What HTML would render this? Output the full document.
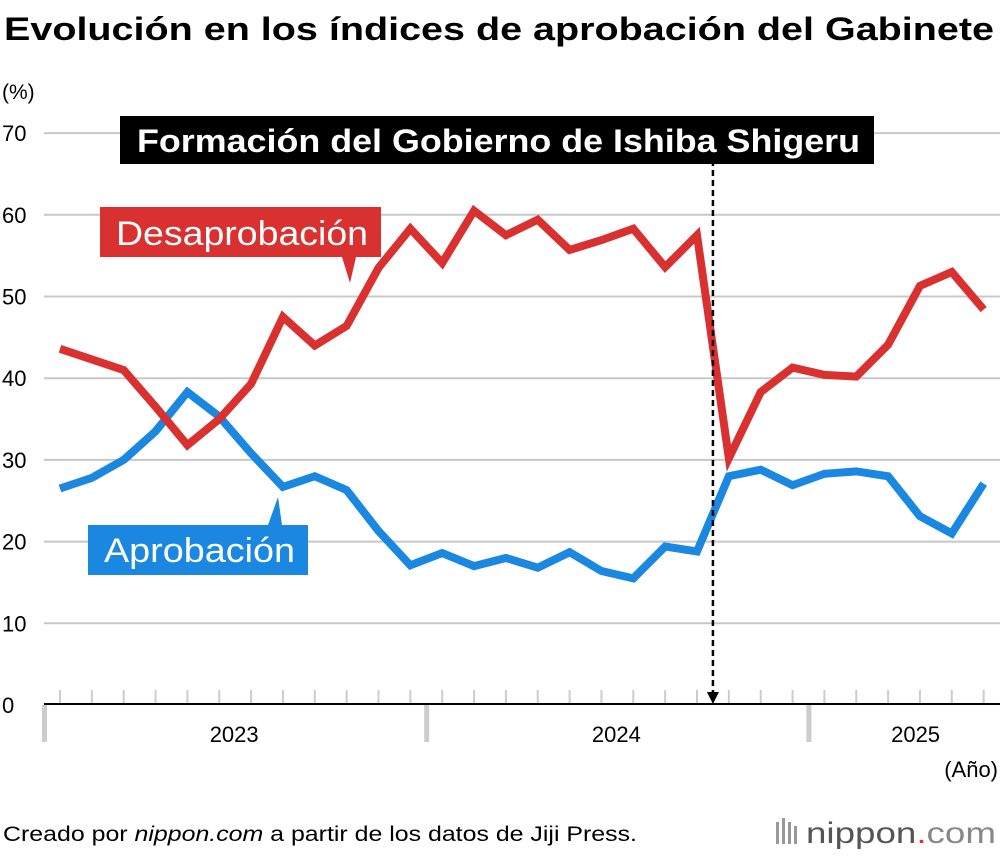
<!DOCTYPE html>
<html><head><meta charset="utf-8"><style>
body{margin:0;background:#fff;width:1000px;height:856px;overflow:hidden;font-family:"Liberation Sans",Arial,sans-serif}
</style></head><body>
<svg id="c" width="1000" height="856" xmlns="http://www.w3.org/2000/svg">
<text x="4" y="40" font-size="32" font-weight="bold" fill="#000" textLength="990" lengthAdjust="spacingAndGlyphs">Evolución en los índices de aprobación del Gabinete</text>
<text x="2" y="99" font-size="21" fill="#000">(%)</text>
<g id="grid"></g>
<g id="lines"></g>
<g id="xaxis"></g>
<text x="998" y="777" font-size="22" text-anchor="end" fill="#000">(Año)</text>
<text x="3" y="841" font-size="21" fill="#000" textLength="634" lengthAdjust="spacingAndGlyphs">Creado por <tspan font-style="italic">nippon.com</tspan> a partir de los datos de Jiji Press.</text>
<g fill="#999">
<rect x="776" y="822" width="3" height="22"/><rect x="782" y="818" width="3" height="26"/><rect x="788" y="822" width="3" height="22"/><rect x="794" y="826" width="3" height="18"/>
</g>
<text x="806" y="843" font-size="30" fill="#888" textLength="190" lengthAdjust="spacingAndGlyphs"><tspan fill="#555">nippon</tspan><tspan fill="#d33">.</tspan><tspan fill="#888">com</tspan></text>
</svg>
<script>
const yTicks=[0,10,20,30,40,50,60,70];
const years=["2023","2024","2025"];
const approval=[26.5,27.8,30,33.5,38.3,35.3,30.8,26.7,28,26.3,21.3,17.1,18.6,17,18,16.8,18.7,16.4,15.5,19.4,18.8,28,28.8,26.9,28.3,28.6,28,23.1,21,27.1];
const disapproval=[43.6,42.3,41,36.5,31.8,35,39.3,47.5,44,46.4,53.5,58.3,54.1,60.5,57.5,59.4,55.7,56.9,58.3,53.6,57.5,30.2,38.3,41.3,40.4,40.2,44.1,51.3,53,48.4];
const eventIndex=20.5;
const NS="http://www.w3.org/2000/svg";
const y=v=>705-8.17*v;
const x=i=>60+31.85*i;
function mk(t,a,p){const e=document.createElementNS(NS,t);for(const k in a)e.setAttribute(k,a[k]);p.appendChild(e);return e;}
const grid=document.getElementById('grid');
yTicks.forEach(v=>{
 if(v>0){const l=mk('line',{x1:44,x2:1000,y1:y(v),y2:y(v),stroke:'#c8c8c8','stroke-width':2},grid);
 
 }
 const t=mk('text',{x:2,y:y(v)+8,'font-size':22,fill:'#000'},grid);t.textContent=v;
 
 
});
const xa=document.getElementById('xaxis');
for(let i=0;i<approval.length;i++){const l=mk('line',{x1:x(i),x2:x(i),y1:690,y2:704,stroke:'#ccc','stroke-width':2},xa);
 
 }
const axl=mk('line',{x1:44,x2:1000,y1:704,y2:704,stroke:'#000','stroke-width':2},xa);


years.forEach((yr,k)=>{
 const b=x(12*k)-16;
 const r=mk('rect',{x:b-2,y:705,width:5,height:37,fill:'#ccc'},xa);
 
 
 const c=x(12*k+5.5);
 const t=mk('text',{x:k==2?c-84:c-1,y:742,'font-size':22,'text-anchor':'middle',fill:'#000'},xa);t.textContent=yr;
 
 
});
const L=document.getElementById('lines');
function series(d,col,name){const p=mk('polyline',{points:d.map((v,i)=>x(i)+','+y(v)).join(' '),fill:'none',stroke:col,'stroke-width':8,'stroke-linejoin':'miter'},L);
 
 }
series(approval,'#1a87e0','approval-line');
series(disapproval,'#d93030','disapproval-line');
const ex=x(eventIndex);
const el=mk('line',{x1:ex,x2:ex,y1:160,y2:695,stroke:'#000','stroke-width':2.5,'stroke-dasharray':'6,4'},L);


const ea=mk('polygon',{points:`${ex-6},692 ${ex+6},692 ${ex},704`,fill:'#000'},L);


const eb=mk('rect',{x:120,y:116,width:754,height:48,fill:'#000'},L);


const et=mk('text',{x:137,y:152,'font-size':32,'font-weight':'bold',fill:'#fff',textLength:723,lengthAdjust:'spacingAndGlyphs'},L);et.textContent='Formación del Gobierno de Ishiba Shigeru';


const db=mk('path',{d:'M100,207 H381 V257 H356 L350,283 L342,257 H100 Z',fill:'#d93030'},L);


const dt=mk('text',{x:116,y:245,'font-size':34,fill:'#fff',textLength:252,lengthAdjust:'spacingAndGlyphs'},L);dt.textContent='Desaprobación';


const ab=mk('path',{d:'M88,525 H268 L278,497 L282,525 H308 V575 H88 Z',fill:'#1a87e0'},L);


const at=mk('text',{x:104,y:562,'font-size':34,fill:'#fff',textLength:191,lengthAdjust:'spacingAndGlyphs'},L);at.textContent='Aprobación';


</script>
</body></html>
